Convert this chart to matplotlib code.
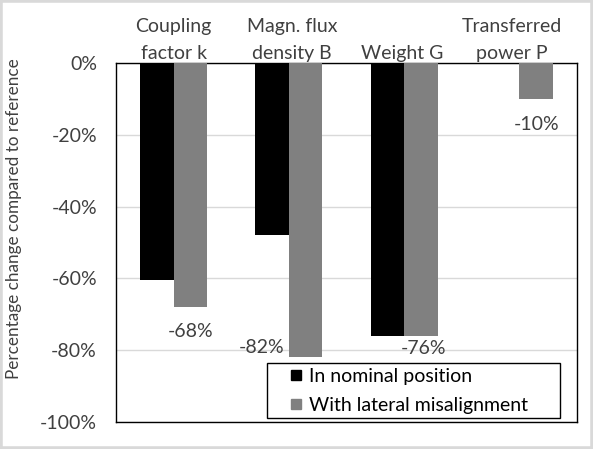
import matplotlib.pyplot as plt
import matplotlib.patches as mpatches
from matplotlib.lines import Line2D
from matplotlib.ticker import FuncFormatter
import numpy as np

plt.rcParams['font.family'] = ['Lato', 'DejaVu Sans']

categories = ["Coupling\nfactor k", "Magn. flux\ndensity B", "Weight G", "Transferred\npower P"]
nominal = [-60.5, -48, -76, 0]
lateral = [-68, -82, -76, -10]
labels = ["-68%", "-82%", "-76%", "-10%"]
series_names = ["In nominal position", "With lateral misalignment"]

TXT = '#404040'
GRAY = '#808080'
W, H = 593, 449

fig = plt.figure(figsize=(W / 100, H / 100), dpi=100)
# plot area in pixels: left 116, right 577, top 63, bottom 422
ax = fig.add_axes([116 / W, 1 - 422 / H, (577 - 116) / W, (422 - 63) / H])

x = np.arange(len(categories))
w = 0.29
ax.bar(x - w / 2, nominal, w, color='black', zorder=3)
ax.bar(x + w / 2, lateral, w, color=GRAY, zorder=3)

# data labels (misalignment series), baseline placed below bar end
lab_dx = [0.0, -0.16, 0.02, 0.0]
lab_dy = [-8.4, 1.2, -5.1, -8.7]
lab_ha = ['center', 'right', 'center', 'center']
for i, txt in enumerate(labels):
    xx = x[i] + w / 2 + lab_dx[i]
    if lab_ha[i] == 'right':
        xx = x[i] + lab_dx[i] + 0.12
    ax.text(xx, lateral[i] + lab_dy[i], txt, ha=lab_ha[i], va='baseline',
            fontsize=14, color=TXT, zorder=4)

ax.set_ylim(-100, 0)
ax.set_xlim(-0.5, 3.5)
ax.set_yticks(np.arange(-100, 1, 20))
ax.yaxis.set_major_formatter(FuncFormatter(lambda v, p: f"{v:.0f}%"))
ax.tick_params(axis='y', length=0, pad=13.7, labelsize=14, labelcolor=TXT)

cat_dx = [0.0, 0.026, -0.02, -0.063]
ax.xaxis.tick_top()
ax.set_xticks(x + np.array(cat_dx))
ax.set_xticklabels(categories, fontsize=14, color=TXT, linespacing=1.78)
ax.tick_params(axis='x', length=0, pad=0.4)
ax.grid(axis='y', color='#d9d9d9', linewidth=1, zorder=0)
for s in ax.spines.values():
    s.set_color('black')
    s.set_linewidth(1)

ax.set_ylabel("Percentage change compared to reference", fontsize=12.3, color=TXT)
ax.yaxis.set_label_coords((22 - 116) / 461, (422 - 219) / 359)

# legend: frame drawn by hand, entries with square markers
box = ((267 - 116) / 461, (422 - 418) / 359)
bw, bh = (560 - 267) / 461, (418 - 363) / 359
ax.add_patch(mpatches.Rectangle(box, bw, bh, transform=ax.transAxes, fill=True,
                                facecolor='white', edgecolor='black', linewidth=1, zorder=5))
handles = [Line2D([], [], marker='s', linestyle='none', markersize=7.9,
                  markerfacecolor=c, markeredgecolor=c) for c in ['black', GRAY]]
leg = ax.legend(handles, series_names, loc='upper left',
                bbox_to_anchor=((290 - 116) / 461, (422 - 368) / 359),
                fontsize=14, frameon=False, handlelength=0.62, handletextpad=0.38,
                borderpad=0, borderaxespad=0, labelspacing=0.6)
leg.set_zorder(6)
for t in leg.get_texts():
    t.set_color('black')

fig.patches.append(mpatches.Rectangle((0, 0), 1, 1, transform=fig.transFigure,
                                      fill=False, edgecolor='#d9d9d9', linewidth=4))

fig.savefig("out.png", dpi=100)
